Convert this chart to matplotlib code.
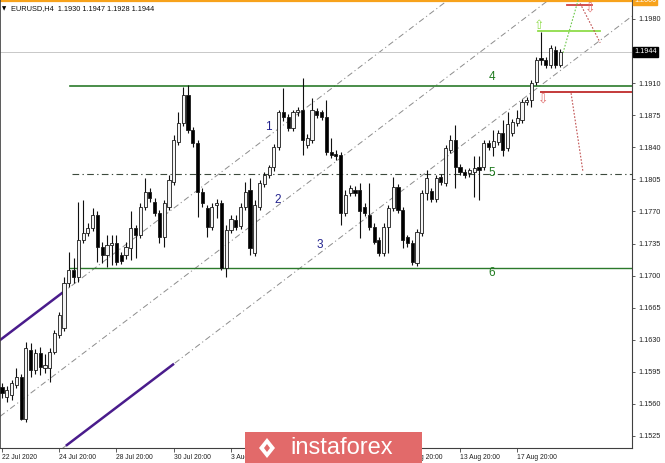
import numpy as np
import matplotlib
matplotlib.use("Agg")
import matplotlib.pyplot as plt
from matplotlib.patches import Rectangle, Polygon

plt.rcParams['font.family'] = ['Liberation Sans', 'DejaVu Sans']

# EURUSD H4 bars (one entry per bar)
opens = [1.1578, 1.1568, 1.1570, 1.1581, 1.1589, 1.1544, 1.1619, 1.1597, 1.1616, 1.1599,
         1.1599, 1.1617, 1.1635, 1.1643, 1.1692, 1.1706, 1.1698, 1.1739, 1.1747, 1.1752,
         1.1766, 1.1731, 1.1722, 1.1733, 1.1736, 1.1722, 1.1722, 1.1730, 1.1752, 1.1744,
         1.1775, 1.1791, 1.1780, 1.1768, 1.1742, 1.1775, 1.1802, 1.1846, 1.1867, 1.1897,
         1.1859, 1.1845, 1.1791, 1.1774, 1.1753, 1.1777, 1.1779, 1.1708, 1.1750, 1.1761,
         1.1754, 1.1775, 1.1793, 1.1725, 1.1775, 1.1800, 1.1810, 1.1818, 1.1840, 1.1878,
         1.1873, 1.1861, 1.1878, 1.1881, 1.1842, 1.1848, 1.1880, 1.1878, 1.1873, 1.1835,
         1.1833, 1.1832, 1.1768, 1.1790, 1.1793, 1.1793, 1.1775, 1.1766, 1.1753, 1.1739,
         1.1725, 1.1753, 1.1774, 1.1797, 1.1772, 1.1742, 1.1736, 1.1714, 1.1747, 1.1790,
         1.1792, 1.1784, 1.1808, 1.1801, 1.1837, 1.1848, 1.1818, 1.1813, 1.1812, 1.1813,
         1.1818, 1.1818, 1.1845, 1.1840, 1.1846, 1.1856, 1.1839, 1.1856, 1.1866, 1.1870,
         1.1889, 1.1892, 1.1911, 1.1937, 1.1935, 1.1930, 1.1946, 1.1930]
highs = [1.1583, 1.1580, 1.1586, 1.1599, 1.1593, 1.1628, 1.1627, 1.1620, 1.1622, 1.1614,
         1.1621, 1.1641, 1.1660, 1.1698, 1.1726, 1.1719, 1.1780, 1.1783, 1.1757, 1.1774,
         1.1770, 1.1737, 1.1744, 1.1744, 1.1744, 1.1726, 1.1737, 1.1770, 1.1755, 1.1779,
         1.1806, 1.1796, 1.1785, 1.1772, 1.1783, 1.1810, 1.1853, 1.1878, 1.1906, 1.1908,
         1.1862, 1.1848, 1.1796, 1.1777, 1.1779, 1.1784, 1.1783, 1.1755, 1.1766, 1.1766,
         1.1779, 1.1802, 1.1806, 1.1783, 1.1804, 1.1813, 1.1821, 1.1844, 1.1881, 1.1905,
         1.1876, 1.1881, 1.1884, 1.1916, 1.1855, 1.1894, 1.1883, 1.1881, 1.1892, 1.1850,
         1.1837, 1.1835, 1.1793, 1.1799, 1.1798, 1.1801, 1.1779, 1.1801, 1.1757, 1.1742,
         1.1757, 1.1777, 1.1808, 1.1800, 1.1775, 1.1744, 1.1739, 1.1751, 1.1793, 1.1815,
         1.1796, 1.1810, 1.1811, 1.1842, 1.1853, 1.1864, 1.1822, 1.1816, 1.1817, 1.1830,
         1.1830, 1.1848, 1.1848, 1.1859, 1.1859, 1.1870, 1.1879, 1.1871, 1.1881, 1.1893,
         1.1895, 1.1913, 1.1938, 1.1966, 1.1938, 1.1952, 1.1950, 1.1947]
lows = [1.1566, 1.1562, 1.1564, 1.1577, 1.1542, 1.1540, 1.1589, 1.1593, 1.1592, 1.1594,
        1.1584, 1.1614, 1.1632, 1.1640, 1.1688, 1.1692, 1.1693, 1.1736, 1.1743, 1.1749,
        1.1715, 1.1714, 1.1709, 1.1712, 1.1712, 1.1713, 1.1718, 1.1717, 1.1719, 1.1741,
        1.1772, 1.1780, 1.1765, 1.1736, 1.1731, 1.1772, 1.1799, 1.1842, 1.1863, 1.1856,
        1.1840, 1.1764, 1.1775, 1.1742, 1.1750, 1.1763, 1.1706, 1.1699, 1.1747, 1.1750,
        1.1751, 1.1772, 1.1722, 1.1721, 1.1772, 1.1797, 1.1806, 1.1814, 1.1837, 1.1869,
        1.1858, 1.1858, 1.1874, 1.1832, 1.1839, 1.1845, 1.1872, 1.1870, 1.1832, 1.1828,
        1.1826, 1.1755, 1.1765, 1.1787, 1.1787, 1.1741, 1.1765, 1.1750, 1.1734, 1.1721,
        1.1721, 1.1725, 1.1771, 1.1768, 1.1730, 1.1731, 1.1712, 1.1711, 1.1743, 1.1783,
        1.1780, 1.1780, 1.1799, 1.1798, 1.1834, 1.1796, 1.1810, 1.1806, 1.1808, 1.1786,
        1.1783, 1.1815, 1.1837, 1.1830, 1.1842, 1.1830, 1.1836, 1.1852, 1.1863, 1.1866,
        1.1886, 1.1884, 1.1908, 1.1930, 1.1927, 1.1927, 1.1927, 1.1928]
closes = [1.1572, 1.1575, 1.1583, 1.1589, 1.1544, 1.1621, 1.1597, 1.1616, 1.1600, 1.1603,
          1.1617, 1.1637, 1.1657, 1.1692, 1.1706, 1.1698, 1.1739, 1.1747, 1.1752, 1.1766,
          1.1731, 1.1722, 1.1733, 1.1736, 1.1715, 1.1716, 1.1731, 1.1752, 1.1744, 1.1775,
          1.1791, 1.1785, 1.1768, 1.1742, 1.1779, 1.1804, 1.1848, 1.1867, 1.1897, 1.1859,
          1.1845, 1.1791, 1.1779, 1.1753, 1.1775, 1.1779, 1.1708, 1.1750, 1.1762, 1.1753,
          1.1775, 1.1791, 1.1730, 1.1777, 1.1801, 1.1810, 1.1818, 1.1840, 1.1878, 1.1873,
          1.1861, 1.1878, 1.1881, 1.1848, 1.1850, 1.1881, 1.1875, 1.1873, 1.1835, 1.1832,
          1.1831, 1.1768, 1.1788, 1.1796, 1.1790, 1.1770, 1.1768, 1.1753, 1.1737, 1.1725,
          1.1753, 1.1774, 1.1797, 1.1772, 1.1739, 1.1736, 1.1715, 1.1748, 1.1790, 1.1806,
          1.1784, 1.1806, 1.1802, 1.1839, 1.1848, 1.1818, 1.1813, 1.1810, 1.1815, 1.1817,
          1.1815, 1.1845, 1.1840, 1.1847, 1.1856, 1.1837, 1.1865, 1.1868, 1.1872, 1.1889,
          1.1892, 1.1910, 1.1935, 1.1935, 1.1930, 1.1948, 1.1930, 1.1944]

tick_bars = [0, 12, 24, 36, 48, 60, 72, 84, 96, 108]
tick_labels = ["22 Jul 2020", "24 Jul 20:00", "28 Jul 20:00", "30 Jul 20:00", "3 Aug 20:00",
               "5 Aug 20:00", "7 Aug 20:00", "11 Aug 20:00", "13 Aug 20:00", "17 Aug 20:00"]
price_ticks = [1.1525, 1.1560, 1.1595, 1.1630, 1.1665, 1.1700, 1.1735, 1.1770,
               1.1805, 1.1840, 1.1875, 1.1910, 1.1980]

# levels and channel
level_4 = 1.1907
level_5 = 1.1811
level_6 = 1.1708
level_red = 1.1900
level_target_up = 1.1967
level_target_top = 1.1995
round_level = 1.2000
last_price = 1.1944
chan_slope = 0.000395           # price per bar
chan_base = [1.16313, 1.1548, 1.14614]   # channel lines value at bar 0

fig = plt.figure(figsize=(6.65, 4.63), dpi=100)
ax = fig.add_axes([0, 15 / 463, 632 / 665, 448 / 463])
ax.set_xlim(-0.42, 132.07)
ax.set_ylim(1.15119, 1.20007)

x = np.arange(len(opens))
o = np.array(opens); h = np.array(highs); l = np.array(lows); c = np.array(closes)

# channel lines (dash-dot) + solid purple parts
xx = np.array([-0.42, 132.07])
dashdot = (0, (6, 3, 1.2, 3))
for b in chan_base:
    ax.plot(xx, b + chan_slope * xx, color="#8c8c8c", lw=0.7, ls=dashdot, zorder=1)
xp = np.array([-0.42, 12.58])
ax.plot(xp, chan_base[0] + chan_slope * xp, color="#4a1c8c", lw=1.8, zorder=2)
xp = np.array([13.6, 35.85])
ax.plot(xp, chan_base[2] + chan_slope * xp, color="#4a1c8c", lw=1.8, zorder=2)

# horizontal levels
ax.axhline(round_level, color="#f7a21b", lw=1.6, zorder=2)
ax.axhline(last_price, color="#c8c8c8", lw=0.7, zorder=1)
ax.plot([14.3, 132.07], [level_4, level_4], color="#2b7a2b", lw=1.2, zorder=2)
ax.plot([14.3, 132.07], [level_6, level_6], color="#2b7a2b", lw=1.0, zorder=2)
ax.plot([14.67, 132.07], [level_5, level_5], color="#3d4a3d", lw=0.8, ls=dashdot, zorder=2)
ax.plot([113.0, 132.07], [level_red, level_red], color="#c43a3a", lw=1.4, zorder=2)
ax.plot([112.4, 125.4], [level_target_up, level_target_up], color="#8fdc4a", lw=1.3, zorder=2)
ax.plot([118.4, 123.7], [level_target_top, level_target_top], color="#d04040", lw=1.3, zorder=2)

# dotted projections
ax.plot([117.6, 120.8], [1.1943, 1.2001], color="#6cc84a", lw=0.8, ls=(0, (1.5, 1.5)), zorder=2)
ax.plot([121.2, 125.4], [1.1997, 1.1954], color="#c05050", lw=0.8, ls=(0, (1.5, 1.5)), zorder=2)
ax.plot([119.3, 121.8], [1.1899, 1.1813], color="#c05050", lw=0.8, ls=(0, (1.5, 1.5)), zorder=2)

# arrows
ax.text(112.6, 1.1973, "⇧", color="#8fdc4a", fontsize=9, ha="center", va="center",
        family="DejaVu Sans", zorder=3)
ax.text(123.3, 1.1991, "⇩", color="#e07070", fontsize=9, ha="center", va="center",
        family="DejaVu Sans", zorder=3)
ax.text(113.4, 1.1892, "⇩", color="#e07070", fontsize=9, ha="center", va="center",
        family="DejaVu Sans", zorder=3)

# candles
ax.vlines(x, l, h, color="#101010", lw=0.8, zorder=4)
for i in range(len(x)):
    bull = c[i] >= o[i]
    lo = min(o[i], c[i]); hi = max(o[i], c[i])
    ht = max(hi - lo, 0.00004)
    ax.add_patch(Rectangle((x[i] - 0.33, lo), 0.66, ht,
                           facecolor="#f4f4f4" if bull else "black",
                           edgecolor="#1a1a1a", lw=0.6, zorder=5))

# wave labels
for s, bx, py in [("1", 55.8, 1.1862), ("2", 57.7, 1.1783), ("3", 66.7, 1.1733)]:
    ax.text(bx, py, s, color="#23238e", fontsize=8.5, ha="center", va="center", zorder=6)
for s, py in [("4", 1.1917), ("5", 1.1812), ("6", 1.1703)]:
    ax.text(102.7, py, s, color="#1f7a1f", fontsize=8.5, ha="center", va="center", zorder=6)

# axes styling
ax.spines["top"].set_visible(False)
for side in ["left", "right", "bottom"]:
    ax.spines[side].set_color("#404040")
ax.spines["left"].set_linewidth(1.2)
ax.yaxis.tick_right()
ax.set_yticks(price_ticks)
ax.set_yticklabels([f"{p:.4f}" for p in price_ticks], fontsize=5.2, color="#202020")
ax.tick_params(axis="y", length=2.5, width=0.6, pad=2, color="#404040")
ax.set_xticks(tick_bars)
ax.set_xticklabels(tick_labels, fontsize=4.9, color="#202020", ha="left")
ax.tick_params(axis="x", length=3, width=0.6, pad=1.5, color="#404040")

# price boxes on the scale
ax.text(132.5, last_price, "1.1944", fontsize=5.2, color="white", va="center", ha="left",
        bbox=dict(boxstyle="square,pad=0.15", fc="black", ec="black"), clip_on=False, zorder=7)
ax.text(132.5, round_level, "1.2000", fontsize=5.2, color="white", va="center", ha="left",
        bbox=dict(boxstyle="square,pad=0.15", fc="#f7a21b", ec="#f7a21b"), clip_on=False, zorder=7)

# header
ax.text(0.003, 0.985, "▼", transform=ax.transAxes, fontsize=4, va="top", family="DejaVu Sans")
ax.text(0.018, 0.988, "EURUSD,H4  1.1930 1.1947 1.1928 1.1944", transform=ax.transAxes,
        fontsize=5.3, va="top", color="#101010")

# watermark over the time scale
wm = fig.add_axes([245 / 665, 0, 177 / 665, 31 / 463], zorder=10)
wm.set_xlim(0, 177); wm.set_ylim(0, 31)
wm.axis("off")
wm.add_patch(Rectangle((0, 0), 177, 31, facecolor="#e26a6a", edgecolor="none"))
wm.add_patch(Polygon([[14, 15], [22, 25], [30, 15], [22, 5]], closed=True,
                     facecolor="white", edgecolor="none"))
wm.add_patch(Polygon([[19, 15], [22, 19], [25, 15], [22, 11]], closed=True,
                     facecolor="#e26a6a", edgecolor="none"))
wm.text(45, 15, "instaforex", color="white", fontsize=17, va="center", ha="left")

fig.savefig("out.png", dpi=100)
